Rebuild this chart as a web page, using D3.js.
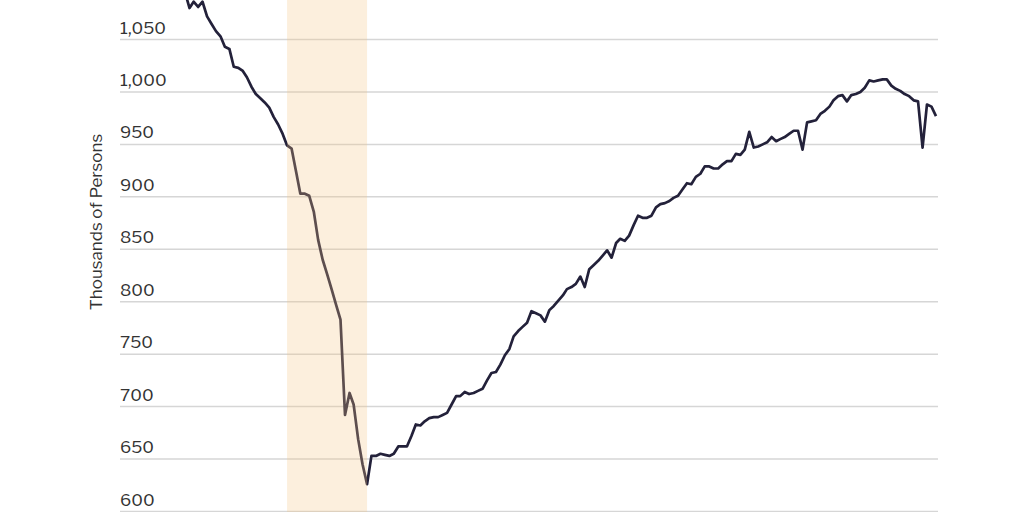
<!DOCTYPE html>
<html>
<head>
<meta charset="utf-8">
<script src="https://cdn.jsdelivr.net/npm/d3@7"></script>
<style>
  body { margin: 0; background: #fff; }
  text { font-family: "Libre Franklin", "Liberation Sans", Arial, sans-serif; }
</style>
</head>
<body>
<div id="chart-area"></div>
<script>
// monthly values, thousands of persons, Jan 2006 .. Feb 2020
const startMonth = "2006-01"
const values = [
  1095, 1080, 1086, 1081, 1086, 1072, 1065, 1058, 1053, 1043, 1041, 1024,
  1023, 1020, 1014, 1005, 998, 994, 990, 985, 976, 969, 960, 949,
  946, 924, 903, 903, 901, 886, 859, 840, 826, 812, 797, 783,
  692, 713, 702, 669, 645, 626, 653, 653, 655, 654, 653, 655,
  662, 662, 662, 672, 683, 682, 686, 689, 690, 690, 692, 694,
  702, 710, 710, 714, 712, 713, 715, 717, 725, 732, 733, 740,
  749, 755, 767, 772, 776, 780, 791, 789, 787, 781, 792, 796,
  801, 806, 812, 814, 817, 824, 814, 831, 835, 839, 844, 849,
  842, 856, 860, 858, 863, 873, 882, 880, 880, 882, 890, 893,
  894, 896, 899, 901, 907, 913, 912, 919, 922, 929, 929, 927,
  927, 931, 934, 934, 941, 940, 945, 962, 947, 948, 950, 952,
  957, 953, 955, 957, 960, 963, 963, 945, 971, 972, 973, 979,
  982, 986, 992, 996, 997, 991, 997, 998, 1000, 1004, 1011, 1010,
  1011, 1012, 1012, 1006, 1003, 1001, 998, 996, 992, 991, 947, 988,
  986, 977
]
const recession = ["2007-12", "2009-06"]
const yTicks = [600, 650, 700, 750, 800, 850, 900, 950, 1000, 1050]

const parse = d3.timeParse("%Y-%m")
const start = parse(startMonth)
const data = values.map((v, i) => ({ date: d3.timeMonth.offset(start, i), value: v }))

const width = 1024, height = 512

const svg = d3.select("#chart-area").append("svg")
  .attr("width", width).attr("height", height)

const x = d3.scaleTime()
  .domain(d3.extent(data, d => d.date))
  .range([185, 936])

const y = d3.scaleLinear()
  .domain([600, 1050])
  .range([511.5, 39.5])

// grid + tick labels
const grid = svg.append("g")
grid.selectAll("line").data(yTicks).enter()
  .append("line")
  .attr("x1", 120).attr("x2", 938)
  .attr("y1", d => y(d)).attr("y2", d => y(d))
  .attr("stroke", "#d6d6d6").attr("stroke-width", 1.5)

grid.selectAll("text").data(yTicks).enter()
  .append("text")
  .attr("x", 120)
  .attr("y", d => y(d) - 6)
  .attr("font-size", 17)
  .attr("fill", "#333")
  .text(d => d3.format(",")(d))

svg.append("text")
  .attr("transform", "translate(102,222) rotate(-90)")
  .attr("text-anchor", "middle")
  .attr("font-size", 17)
  .attr("fill", "#333")
  .text("Thousands of Persons")

const line = d3.line()
  .x(d => x(d.date))
  .y(d => y(d.value))

svg.append("path")
  .datum(data)
  .attr("d", line)
  .attr("fill", "none")
  .attr("stroke", "#23213a")
  .attr("stroke-width", 2.7)
  .attr("stroke-linejoin", "round")

// recession band drawn over the line
svg.append("rect")
  .attr("x", x(parse(recession[0])))
  .attr("width", x(parse(recession[1])) - x(parse(recession[0])))
  .attr("y", 0).attr("height", height)
  .attr("fill", "rgb(243,197,134)")
  .attr("opacity", 0.28)
</script>
</body>
</html>
